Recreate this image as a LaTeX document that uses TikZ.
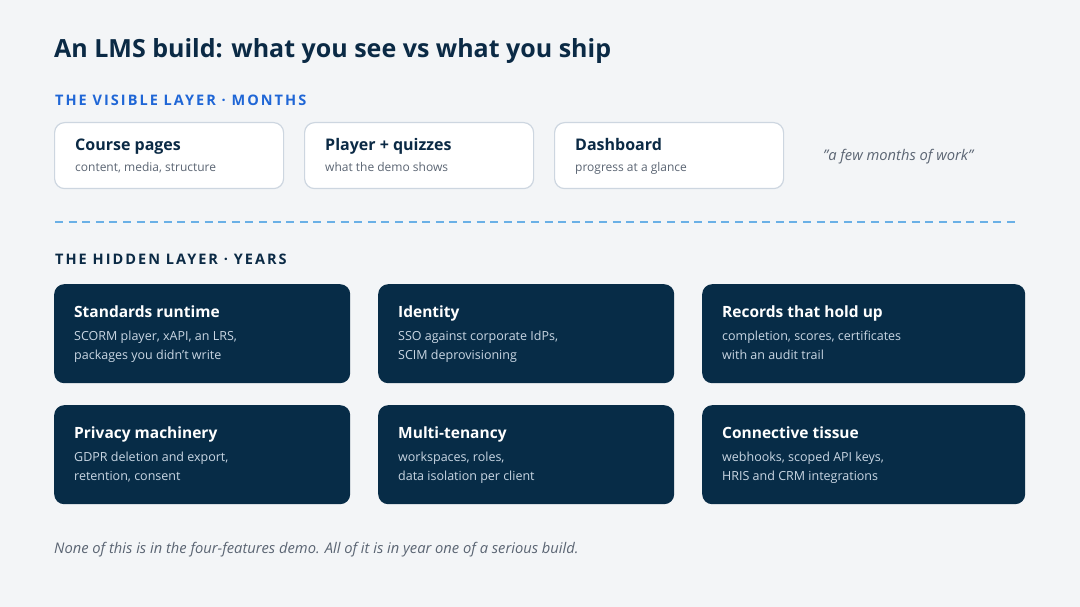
\documentclass[tikz,border=0pt]{standalone}
\usepackage{fontspec}
\setmainfont{Open Sans}
\definecolor{bg}{HTML}{F3F5F7}
\definecolor{navy}{HTML}{0B2A45}
\definecolor{boxnavy}{HTML}{072C47}
\definecolor{vblue}{HTML}{1F66D6}
\definecolor{greytxt}{HTML}{5B6573}
\definecolor{lborder}{HTML}{CDD6E0}
\definecolor{dashblue}{HTML}{6AB0E6}
\definecolor{subdark}{HTML}{C9D6E3}
\begin{document}
\begin{tikzpicture}[x=1pt,y=-1pt,
  lightbox/.style={draw=lborder,line width=1.2pt,fill=white,rounded corners=10pt,minimum width=229pt,minimum height=66pt,anchor=north west,inner sep=0pt},
  darkbox/.style={fill=boxnavy,rounded corners=10pt,minimum height=99pt,anchor=north west,inner sep=0pt},
  ltitle/.style={anchor=base west,inner sep=0pt,text=navy,font=\fontsize{16}{19}\selectfont\bfseries},
  lsub/.style={anchor=base west,inner sep=0pt,text=greytxt,font=\fontsize{12}{15}\selectfont},
  dtitle/.style={anchor=base west,inner sep=0pt,text=white,font=\fontsize{15.5}{19}\selectfont\bfseries},
  dsub/.style={anchor=base west,inner sep=0pt,text=subdark,align=left,font=\fontsize{12.5}{19}\selectfont},
  section/.style={anchor=base west,inner sep=0pt,font=\fontsize{14.5}{17}\selectfont\bfseries\addfontfeatures{LetterSpace=14}}
]
\fill[bg] (0,0) rectangle (1080,607);
\useasboundingbox (0,0) rectangle (1080,607);

\node[anchor=base west,inner sep=0pt,text=navy,font=\fontsize{25}{30}\selectfont\bfseries] (title) at (54,58) {An LMS build: what you see vs what you ship};

\node[section,text=vblue] (vislabel) at (55,106) {THE VISIBLE LAYER · MONTHS};

\node[lightbox] (v1) at (54,122) {};
\node[lightbox] (v2) at (304,122) {};
\node[lightbox] (v3) at (554,122) {};
\foreach \n/\t/\s in {v1/Course pages/{content, media, structure}, v2/Player + quizzes/what the demo shows, v3/Dashboard/progress at a glance}{
  \node[ltitle] (\n t) at ([xshift=21pt,yshift=-29pt]\n.north west) {\t};
  \node[lsub] (\n s) at ([xshift=21pt,yshift=-50pt]\n.north west) {\s};
}
\node[anchor=base west,inner sep=0pt,text=greytxt,font=\fontsize{14.7}{17}\selectfont\itshape] (quote) at (823,161) {\char"22 a few months of work\char"22};

\coordinate (dl) at (55,222);
\coordinate (dr) at (1020,222);
\draw[dashblue,line width=1.8pt,dash pattern=on 8pt off 5.6pt] (dl) -- (dr);

\node[section,text=navy] (hidlabel) at (55,264) {THE HIDDEN LAYER · YEARS};

\node[darkbox,minimum width=296pt] (h1) at (54,284) {};
\node[darkbox,minimum width=296pt] (h2) at (378,284) {};
\node[darkbox,minimum width=323pt] (h3) at (702,284) {};
\node[darkbox,minimum width=296pt] (h4) at (54,405) {};
\node[darkbox,minimum width=296pt] (h5) at (378,405) {};
\node[darkbox,minimum width=323pt] (h6) at (702,405) {};

\foreach \n/\t/\a/\b in {
  h1/Standards runtime/{SCORM player, xAPI, an LRS,}/{packages you didn't write},
  h2/Identity/{SSO against corporate IdPs,}/SCIM deprovisioning,
  h3/Records that hold up/{completion, scores, certificates}/with an audit trail,
  h4/Privacy machinery/{GDPR deletion and export,}/{retention, consent},
  h5/Multi-tenancy/{workspaces, roles,}/data isolation per client,
  h6/Connective tissue/{webhooks, scoped API keys,}/HRIS and CRM integrations}{
  \node[dtitle] (\n t) at ([xshift=20pt,yshift=-33pt]\n.north west) {\t};
  \node[dsub] (\n a) at ([xshift=20pt,yshift=-56pt]\n.north west) {\a};
  \node[dsub] (\n b) at ([xshift=20pt,yshift=-75pt]\n.north west) {\b};
}

\node[anchor=base west,inner sep=0pt,text=greytxt,font=\fontsize{14.7}{17}\selectfont\itshape] (footer) at (54,553) {None of this is in the four-features demo. All of it is in year one of a serious build.};
\end{tikzpicture}
\end{document}
